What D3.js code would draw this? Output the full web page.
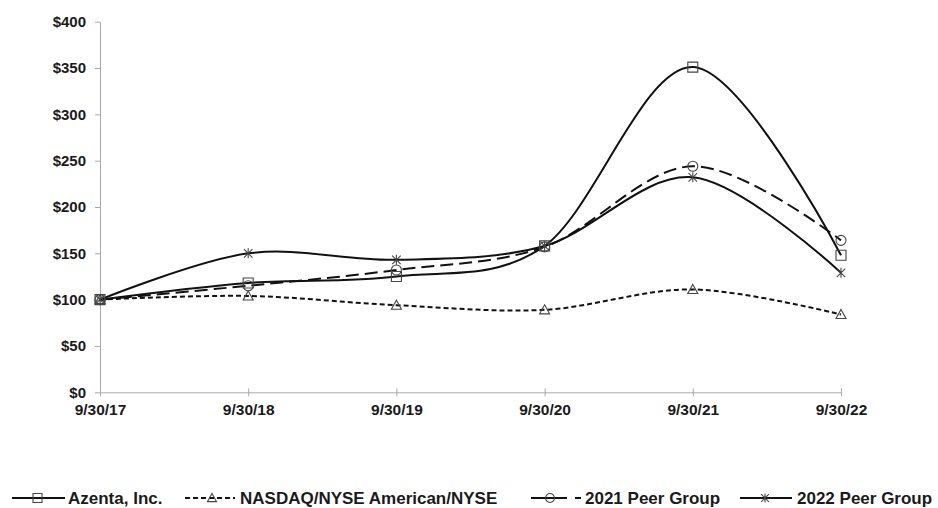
<!DOCTYPE html>
<html>
<head>
<meta charset="utf-8">
<script src="https://cdn.jsdelivr.net/npm/d3@7"></script>
<style>
  html, body { margin: 0; padding: 0; background: #fff; }
  svg { display: block; }
  text { font-family: "Liberation Sans", Arial, sans-serif; font-weight: bold; fill: #1a1a1a; }
</style>
</head>
<body>
<svg id="chart" width="938" height="508"></svg>
<script>
// ---- data ----
const categories = ["9/30/17", "9/30/18", "9/30/19", "9/30/20", "9/30/21", "9/30/22"];
const azenta   = [100, 118, 125, 158, 351, 148];
const nasdaq   = [100, 104, 94, 89, 111, 84];
const peer2021 = [100, 115, 132, 157, 244, 164];
const peer2022 = [100, 150, 143, 158, 232, 129];
const yTicks   = [0, 50, 100, 150, 200, 250, 300, 350, 400];
const seriesNames = ["Azenta, Inc.", "NASDAQ/NYSE American/NYSE", "2021 Peer Group", "2022 Peer Group"];

const series = [
  { name: seriesNames[0], values: azenta,   dash: null,   legDash: null,     marker: "square" },
  { name: seriesNames[1], values: nasdaq,   dash: "5,3",  legDash: "5,3",    marker: "triangle" },
  { name: seriesNames[2], values: peer2021, dash: "13,6", legDash: "36,8,6", marker: "circle" },
  { name: seriesNames[3], values: peer2022, dash: null,   legDash: null,     marker: "asterisk" }
];

const svg = d3.select("#chart");
const x = d3.scalePoint().domain(categories).range([100, 841]);
const y = d3.scaleLinear().domain([0, 400]).range([392.3, 21.7]);

// axes
const yAxis = svg.append("g").attr("transform", "translate(100,0)")
  .call(d3.axisLeft(y).tickValues(yTicks).tickFormat(d => "$" + d).tickSize(5).tickSizeOuter(0).tickPadding(9));
yAxis.selectAll("text").style("font-size", "15px").attr("fill", "#1a1a1a");
yAxis.select(".domain").attr("stroke", "#aaa");
yAxis.selectAll(".tick line").attr("stroke", "#aaa");

const xAxis = svg.append("g").attr("transform", "translate(0,392.3)")
  .call(d3.axisBottom(x).tickSize(5).tickSizeOuter(0).tickPadding(7));
xAxis.selectAll("text").style("font-size", "15.5px").attr("fill", "#1a1a1a");
xAxis.select(".domain").attr("stroke", "#aaa");
xAxis.selectAll(".tick line").attr("stroke", "#aaa").attr("y1", -4).attr("y2", 4);

// marker shapes
function markerPath(type, s) {
  const h = s / 2;
  if (type === "square") return `M${-h},${-h}H${h}V${h}H${-h}Z`;
  if (type === "triangle") return `M0,${-h}L${h},${h * 0.8}L${-h},${h * 0.8}Z`;
  if (type === "circle") return `M${h},0A${h},${h} 0 1,1 ${-h},0A${h},${h} 0 1,1 ${h},0Z`;
  const d = h * 0.85;
  return `M0,${-h}V${h}M${-d},${-d}L${d},${d}M${-d},${d}L${d},${-d}`;
}

const line = d3.line()
  .x((d, i) => x(categories[i]))
  .y(d => y(d))
  .curve(d3.curveCardinal.tension(0));

const plot = svg.append("g");
series.forEach(s => {
  plot.append("path")
    .attr("d", line(s.values))
    .attr("fill", "none")
    .attr("stroke", "#111")
    .attr("stroke-width", 2)
    .attr("stroke-dasharray", s.dash);
});
series.forEach(s => {
  plot.selectAll(null).data(s.values).enter().append("path")
    .attr("transform", (d, i) => `translate(${x(categories[i])},${y(d)})`)
    .attr("d", markerPath(s.marker, 10))
    .attr("fill", "none")
    .attr("stroke", "#444")
    .attr("stroke-width", 1.1);
});

// legend
const legY = 498;
const legend = [
  { x1: 12, x2: 65, mx: 37.5, tx: 68 },
  { x1: 185, x2: 235, mx: 212, tx: 240 },
  { x1: 531, x2: 581, mx: 550, tx: 585 },
  { x1: 740, x2: 792, mx: 765, tx: 797 }
];
series.forEach((s, i) => {
  const L = legend[i];
  const g = svg.append("g");
  g.append("line").attr("x1", L.x1).attr("x2", L.x2).attr("y1", legY).attr("y2", legY)
    .attr("stroke", "#111").attr("stroke-width", 2)
    .attr("stroke-dasharray", s.legDash);
  g.append("path").attr("transform", `translate(${L.mx},${legY})`)
    .attr("d", markerPath(s.marker, 9)).attr("fill", "none").attr("stroke", "#444").attr("stroke-width", 1.1);
  g.append("text").attr("x", L.tx).attr("y", legY).attr("dy", "0.36em")
    .style("font-size", "17px").text(s.name);
});
</script>
</body>
</html>
